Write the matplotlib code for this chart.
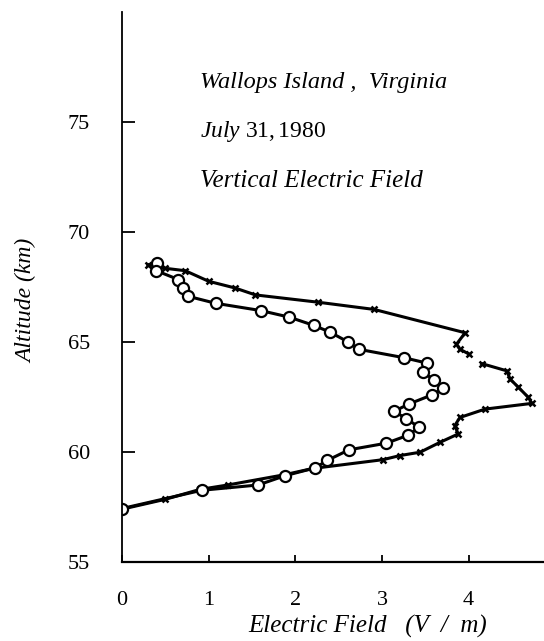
import numpy as np
import matplotlib
matplotlib.use("Agg")
from matplotlib import pyplot as plt

plt.rcParams['font.family'] = 'Liberation Serif'
plt.rcParams['mathtext.fontset'] = 'custom'
plt.rcParams['mathtext.rm'] = 'Liberation Serif'
plt.rcParams['mathtext.it'] = 'Liberation Serif:italic'

# open circles
circ_field = [0.40, 0.39, 0.65, 0.70, 0.76, 1.08, 1.60, 1.93, 2.21, 2.40, 2.61, 2.73,
              3.25, 3.52, 3.47, 3.60, 3.71, 3.58, 3.31, 3.14, 3.28, 3.43, 3.30, 3.05,
              2.62, 2.37, 2.23, 1.88, 1.57, 0.92, 0.0]
circ_alt = [68.59, 68.25, 67.84, 67.46, 67.08, 66.76, 66.43, 66.13, 65.76, 65.45, 65.00, 64.67,
            64.29, 64.04, 63.64, 63.28, 62.90, 62.60, 62.18, 61.85, 61.52, 61.12, 60.76, 60.40,
            60.10, 59.62, 59.28, 58.92, 58.50, 58.26, 57.43]

# x markers (nan = gap in the trace)
x_field = [0.30, 0.50, 0.73, 1.00, 1.30, 1.54, 2.26, 2.91, 3.96, 3.86, 3.90, 4.01, np.nan,
           4.15, 4.44, 4.48, 4.57, 4.69, 4.73, 4.19, 3.90, 3.84, 3.88, 3.67, 3.44, 3.21,
           3.01, 2.20, 1.88, 1.22, 0.90, 0.50, 0.0]
x_alt = [68.52, 68.35, 68.24, 67.76, 67.46, 67.14, 66.81, 66.48, 65.42, 64.90, 64.67, 64.44, np.nan,
         64.02, 63.69, 63.31, 62.96, 62.48, 62.21, 61.95, 61.57, 61.20, 60.82, 60.44, 59.99, 59.84,
         59.65, 59.25, 58.97, 58.50, 58.30, 57.85, 57.40]

xticks = [0, 1, 2, 3, 4]
yticks = [55, 60, 65, 70, 75]

fig = plt.figure(figsize=(5.44, 6.41), dpi=100)
ax = fig.add_axes([122 / 544, 79 / 641, 422 / 544, 550 / 641])

ax.plot(x_field, x_alt, color='k', lw=2.2, marker='x', ms=5, mew=1.8)
ax.plot(circ_field, circ_alt, color='k', lw=2.2, marker='o', ms=8, mfc='white', mec='k', mew=1.6)

ax.set_xlim(0, 4.87)
ax.set_ylim(55, 80)
ax.set_xticks(xticks)
ax.set_yticks(yticks)
ax.spines['top'].set_visible(False)
ax.spines['right'].set_visible(False)
ax.spines['left'].set_linewidth(1.3)
ax.spines['bottom'].set_linewidth(1.6)
# pads and lengths in points (dpi 100)
ax.tick_params(axis='y', direction='in', length=9, width=1.3, pad=23, labelsize=16)
ax.tick_params(axis='x', direction='in', length=4.7, width=1.3, pad=21, labelsize=16)

ax.set_xlabel('Electric Field   (V  /  m)', fontsize=18, style='italic')
ax.xaxis.set_label_coords(0.583, -0.096)
ax.set_ylabel('Altitude (km)', fontsize=17, style='italic')
ax.yaxis.set_label_coords(-0.2, 0.475)

ax.text(0.9, 76.8, 'Wallops Island ,  Virginia', fontsize=17.5, style='italic', va='center')
ax.text(0.9, 74.55, r'$\mathit{July}\ 31,1980$', fontsize=17, va='center')
ax.text(0.9, 72.3, 'Vertical Electric Field', fontsize=18, style='italic', va='center')

plt.savefig("out.png")
plt.close()
